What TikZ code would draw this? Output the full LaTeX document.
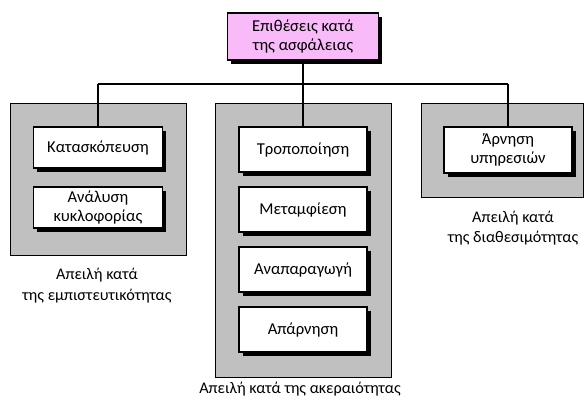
\documentclass[tikz,border=0pt]{standalone}
\usepackage{fontspec}
\setmainfont{Carlito}
\usetikzlibrary{shadows}
\definecolor{rootpink}{RGB}{248,186,248}
\definecolor{panelgray}{RGB}{192,192,192}
\tikzset{
  txt/.style={font=\fontsize{16.6}{19.5}\selectfont, align=center, inner sep=0pt},
  panel/.style={draw=black, line width=1pt, fill=panelgray, inner sep=0pt},
  item/.style={txt, draw=black, line width=1.1pt, fill=white,
    drop shadow={shadow xshift=3.5pt, shadow yshift=-3.5pt, fill=black, opacity=1}},
  rootbox/.style={item, fill=rootpink},
  link/.style={draw=black, line width=1.1pt},
  caption/.style={txt, font=\fontsize{16.2}{19.5}\selectfont, anchor=base}
}
\begin{document}
\begin{tikzpicture}[x=1pt, y=-1pt]
\useasboundingbox (0,0) rectangle (585,400);

% three threat panels
\node[panel, minimum width=176pt, minimum height=152pt] (pconf) at (98,179) {};
\node[panel, minimum width=176pt, minimum height=274pt] (pint)  at (303,240) {};
\node[panel, minimum width=162pt, minimum height=94pt]  (pavail) at (502,150) {};

% root node
\node[rootbox, minimum width=151pt, minimum height=47pt] (root) at (303,36.5)
  {Επιθέσεις κατά\\της ασφάλειας};

% junction points on the distribution bar
\coordinate (jl) at (98,84);
\coordinate (jc) at (303,84);
\coordinate (jr) at (508,84);

% attack boxes
\node[item, minimum width=129pt, minimum height=41pt] (spy)  at (98,147.5) {Κατασκόπευση};
\node[item, minimum width=129pt, minimum height=41pt] (traf) at (98,207.5) {Ανάλυση\\κυκλοφορίας};

\node[item, minimum width=128pt, minimum height=45pt] (mod)  at (303,149.5) {Τροποποίηση};
\node[item, minimum width=128pt, minimum height=45pt] (masq) at (303,209.5) {Μεταμφίεση};
\node[item, minimum width=128pt, minimum height=45pt] (rep)  at (303,269.5) {Αναπαραγωγή};
\node[item, minimum width=128pt, minimum height=45pt] (rpd)  at (303,329.5) {Απάρνηση};

\node[item, minimum width=128pt, minimum height=46pt] (dos) at (508,150) {Άρνηση\\υπηρεσιών};

% connectors
\draw[link] (root.south) -- (jc);
\draw[link] (jl) -- (jr);
\draw[link] (jl) -- (spy.north);
\draw[link] (jc) -- (mod.north);
\draw[link] (jr) -- (dos.north);

% panel captions
\node[caption] (cconfa) at (97,279) {Απειλή κατά};
\node[caption] (cconfb) at (97,300) {της εμπιστευτικότητας};
\node[caption] (cint)   at (300,393) {Απειλή κατά της ακεραιότητας};
\node[caption] (cavaila) at (513,222) {Απειλή κατά};
\node[caption] (cavailb) at (513,242) {της διαθεσιμότητας};
\end{tikzpicture}
\end{document}
